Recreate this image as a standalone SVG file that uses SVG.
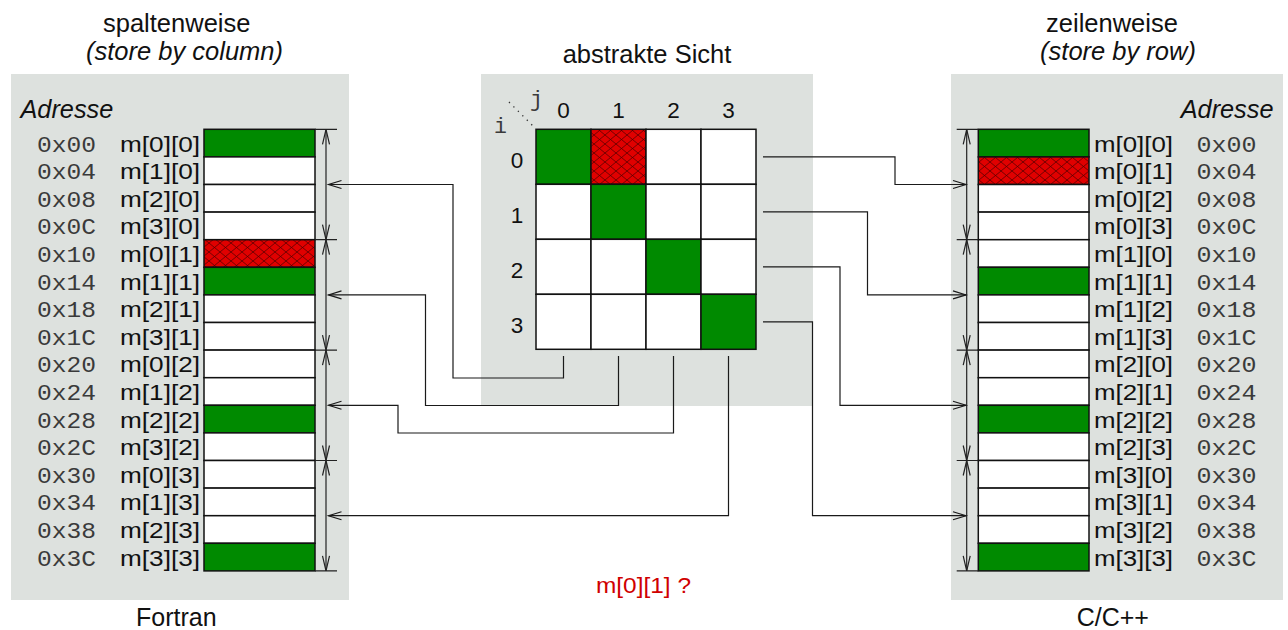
<svg xmlns="http://www.w3.org/2000/svg" width="1288" height="630" viewBox="0 0 1288 630">
<defs>
<style>
.panel{fill:#dde1de}
.t{font-family:"Liberation Sans",Arial,sans-serif;fill:#111}
.ti{font-family:"Liberation Sans",Arial,sans-serif;font-style:italic;fill:#111}
.lab{font-family:"Liberation Sans",Arial,sans-serif;font-size:21.5px;fill:#111}
.idx{font-family:"Liberation Sans",Arial,sans-serif;font-size:22.5px;fill:#111}
.adr{font-family:"Liberation Mono","Courier New",monospace;font-size:21.5px;fill:#3a3a3a}
.cell{fill:#fff;stroke:#111;stroke-width:1.5}
.g{fill:#008a00;stroke:#111;stroke-width:1.5}
.h{fill:url(#hatch);stroke:#111;stroke-width:1.5}
.br{stroke:#222;stroke-width:1.2;fill:none}
.con{stroke:#1a1a1a;stroke-width:1.2;fill:none}
</style>
<pattern id="hatch" width="11" height="9" patternUnits="userSpaceOnUse">
<rect width="11" height="9" fill="#e00000"/>
<path d="M0,0 L11,9 M11,0 L0,9" stroke="#5a0000" stroke-width="0.8"/>
</pattern>
<marker id="arr" markerUnits="userSpaceOnUse" markerWidth="16" markerHeight="12" viewBox="-14 -6 16 12" refX="0" refY="0" orient="auto" overflow="visible">
<path d="M-13,-4 L0,0 L-13,4" fill="none" stroke="#1a1a1a" stroke-width="1.2"/>
</marker>
<marker id="brk" markerUnits="userSpaceOnUse" markerWidth="18" markerHeight="12" viewBox="-16 -6 18 12" refX="0" refY="0" orient="auto-start-reverse" overflow="visible">
<path d="M-15,-3.5 L0,0 L-15,3.5" fill="none" stroke="#222" stroke-width="1.2"/>
</marker>
</defs>

<rect width="1288" height="630" fill="#fff"/>

<g id="titles">
<text class="t" x="176.7" y="31.7" font-size="25.5" text-anchor="middle">spaltenweise</text>
<text class="ti" x="184.5" y="60" font-size="25.5" text-anchor="middle">(store by column)</text>
<text class="t" x="647" y="63.3" font-size="25.5" text-anchor="middle">abstrakte Sicht</text>
<text class="t" x="1112" y="31.7" font-size="25.5" text-anchor="middle">zeilenweise</text>
<text class="ti" x="1118" y="60" font-size="25.5" text-anchor="middle">(store by row)</text>
<text class="t" x="176.3" y="625.7" font-size="25" text-anchor="middle">Fortran</text>
<text class="t" x="1112.8" y="625.7" font-size="25" text-anchor="middle">C/C++</text>
<text x="596" y="593" font-family="'Liberation Sans',Arial,sans-serif" font-size="21.5" fill="#d00000" textLength="95" lengthAdjust="spacingAndGlyphs">m[0][1] ?</text>
</g>

<g id="panel-left">
<rect class="panel" x="11" y="74" width="338" height="526"/>
<text class="ti" x="20.5" y="118.3" font-size="25.3">Adresse</text>
<g id="left-cells">
<rect class="g" x="204" y="129.3" width="111" height="27.6"/>
<rect class="cell" x="204" y="156.9" width="111" height="27.6"/>
<rect class="cell" x="204" y="184.5" width="111" height="27.6"/>
<rect class="cell" x="204" y="212.1" width="111" height="27.6"/>
<rect class="h" x="204" y="239.7" width="111" height="27.6"/>
<rect class="g" x="204" y="267.3" width="111" height="27.6"/>
<rect class="cell" x="204" y="294.9" width="111" height="27.6"/>
<rect class="cell" x="204" y="322.5" width="111" height="27.6"/>
<rect class="cell" x="204" y="350.1" width="111" height="27.6"/>
<rect class="cell" x="204" y="377.7" width="111" height="27.6"/>
<rect class="g" x="204" y="405.3" width="111" height="27.6"/>
<rect class="cell" x="204" y="432.9" width="111" height="27.6"/>
<rect class="cell" x="204" y="460.5" width="111" height="27.6"/>
<rect class="cell" x="204" y="488.1" width="111" height="27.6"/>
<rect class="cell" x="204" y="515.7" width="111" height="27.6"/>
<rect class="g" x="204" y="543.3" width="111" height="27.6"/>
</g>
<g id="left-addr">
<text class="adr" x="37" y="151.5" textLength="59" lengthAdjust="spacingAndGlyphs">0x00</text>
<text class="adr" x="37" y="179.1" textLength="59" lengthAdjust="spacingAndGlyphs">0x04</text>
<text class="adr" x="37" y="206.7" textLength="59" lengthAdjust="spacingAndGlyphs">0x08</text>
<text class="adr" x="37" y="234.3" textLength="59" lengthAdjust="spacingAndGlyphs">0x0C</text>
<text class="adr" x="37" y="261.9" textLength="59" lengthAdjust="spacingAndGlyphs">0x10</text>
<text class="adr" x="37" y="289.5" textLength="59" lengthAdjust="spacingAndGlyphs">0x14</text>
<text class="adr" x="37" y="317.1" textLength="59" lengthAdjust="spacingAndGlyphs">0x18</text>
<text class="adr" x="37" y="344.7" textLength="59" lengthAdjust="spacingAndGlyphs">0x1C</text>
<text class="adr" x="37" y="372.3" textLength="59" lengthAdjust="spacingAndGlyphs">0x20</text>
<text class="adr" x="37" y="399.9" textLength="59" lengthAdjust="spacingAndGlyphs">0x24</text>
<text class="adr" x="37" y="427.5" textLength="59" lengthAdjust="spacingAndGlyphs">0x28</text>
<text class="adr" x="37" y="455.1" textLength="59" lengthAdjust="spacingAndGlyphs">0x2C</text>
<text class="adr" x="37" y="482.7" textLength="59" lengthAdjust="spacingAndGlyphs">0x30</text>
<text class="adr" x="37" y="510.3" textLength="59" lengthAdjust="spacingAndGlyphs">0x34</text>
<text class="adr" x="37" y="537.9" textLength="59" lengthAdjust="spacingAndGlyphs">0x38</text>
<text class="adr" x="37" y="565.5" textLength="59" lengthAdjust="spacingAndGlyphs">0x3C</text>
</g>
<g id="left-labels">
<text class="lab" x="120" y="151.5" textLength="80" lengthAdjust="spacingAndGlyphs">m[0][0]</text>
<text class="lab" x="120" y="179.1" textLength="80" lengthAdjust="spacingAndGlyphs">m[1][0]</text>
<text class="lab" x="120" y="206.7" textLength="80" lengthAdjust="spacingAndGlyphs">m[2][0]</text>
<text class="lab" x="120" y="234.3" textLength="80" lengthAdjust="spacingAndGlyphs">m[3][0]</text>
<text class="lab" x="120" y="261.9" textLength="80" lengthAdjust="spacingAndGlyphs">m[0][1]</text>
<text class="lab" x="120" y="289.5" textLength="80" lengthAdjust="spacingAndGlyphs">m[1][1]</text>
<text class="lab" x="120" y="317.1" textLength="80" lengthAdjust="spacingAndGlyphs">m[2][1]</text>
<text class="lab" x="120" y="344.7" textLength="80" lengthAdjust="spacingAndGlyphs">m[3][1]</text>
<text class="lab" x="120" y="372.3" textLength="80" lengthAdjust="spacingAndGlyphs">m[0][2]</text>
<text class="lab" x="120" y="399.9" textLength="80" lengthAdjust="spacingAndGlyphs">m[1][2]</text>
<text class="lab" x="120" y="427.5" textLength="80" lengthAdjust="spacingAndGlyphs">m[2][2]</text>
<text class="lab" x="120" y="455.1" textLength="80" lengthAdjust="spacingAndGlyphs">m[3][2]</text>
<text class="lab" x="120" y="482.7" textLength="80" lengthAdjust="spacingAndGlyphs">m[0][3]</text>
<text class="lab" x="120" y="510.3" textLength="80" lengthAdjust="spacingAndGlyphs">m[1][3]</text>
<text class="lab" x="120" y="537.9" textLength="80" lengthAdjust="spacingAndGlyphs">m[2][3]</text>
<text class="lab" x="120" y="565.5" textLength="80" lengthAdjust="spacingAndGlyphs">m[3][3]</text>
</g>
<g id="left-brackets">
<path class="br" d="M315,129.3H337M315,239.7H337M315,350.1H337M315,460.5H337M315,570.9H337"/>
<path class="br" d="M326,129.3V239.7" marker-start="url(#brk)" marker-end="url(#brk)"/>
<path class="br" d="M326,239.7V350.1" marker-start="url(#brk)" marker-end="url(#brk)"/>
<path class="br" d="M326,350.1V460.5" marker-start="url(#brk)" marker-end="url(#brk)"/>
<path class="br" d="M326,460.5V570.9" marker-start="url(#brk)" marker-end="url(#brk)"/>
</g>
</g>

<g id="panel-center">
<rect class="panel" x="481" y="74" width="332" height="332"/>
<g id="matrix">
<rect class="g" x="536" y="129.3" width="55" height="55"/>
<rect class="h" x="591" y="129.3" width="55" height="55"/>
<rect class="cell" x="646" y="129.3" width="55" height="55"/>
<rect class="cell" x="701" y="129.3" width="55" height="55"/>
<rect class="cell" x="536" y="184.3" width="55" height="55"/>
<rect class="g" x="591" y="184.3" width="55" height="55"/>
<rect class="cell" x="646" y="184.3" width="55" height="55"/>
<rect class="cell" x="701" y="184.3" width="55" height="55"/>
<rect class="cell" x="536" y="239.3" width="55" height="55"/>
<rect class="cell" x="591" y="239.3" width="55" height="55"/>
<rect class="g" x="646" y="239.3" width="55" height="55"/>
<rect class="cell" x="701" y="239.3" width="55" height="55"/>
<rect class="cell" x="536" y="294.3" width="55" height="55"/>
<rect class="cell" x="591" y="294.3" width="55" height="55"/>
<rect class="cell" x="646" y="294.3" width="55" height="55"/>
<rect class="g" x="701" y="294.3" width="55" height="55"/>
</g>
<g id="matrix-index">
<text class="idx" x="563.5" y="118.3" text-anchor="middle">0</text>
<text class="idx" x="618.5" y="118.3" text-anchor="middle">1</text>
<text class="idx" x="673.5" y="118.3" text-anchor="middle">2</text>
<text class="idx" x="728.5" y="118.3" text-anchor="middle">3</text>
<text class="idx" x="517" y="168.3" text-anchor="middle">0</text>
<text class="idx" x="517" y="223.3" text-anchor="middle">1</text>
<text class="idx" x="517" y="278.3" text-anchor="middle">2</text>
<text class="idx" x="517" y="333.3" text-anchor="middle">3</text>
<text class="adr" x="530" y="106" font-size="22">j</text>
<text class="adr" x="494" y="133" font-size="22">i</text>
<path d="M509,102 L533,126" stroke="#333" stroke-width="1.3" stroke-dasharray="1.3,5" fill="none"/>
</g>
</g>

<g id="panel-right">
<rect class="panel" x="951" y="74" width="332" height="526"/>
<text class="ti" x="1273.5" y="118.3" font-size="25.3" text-anchor="end">Adresse</text>
<g id="right-cells">
<rect class="g" x="978.3" y="129.3" width="110.7" height="27.6"/>
<rect class="h" x="978.3" y="156.9" width="110.7" height="27.6"/>
<rect class="cell" x="978.3" y="184.5" width="110.7" height="27.6"/>
<rect class="cell" x="978.3" y="212.1" width="110.7" height="27.6"/>
<rect class="cell" x="978.3" y="239.7" width="110.7" height="27.6"/>
<rect class="g" x="978.3" y="267.3" width="110.7" height="27.6"/>
<rect class="cell" x="978.3" y="294.9" width="110.7" height="27.6"/>
<rect class="cell" x="978.3" y="322.5" width="110.7" height="27.6"/>
<rect class="cell" x="978.3" y="350.1" width="110.7" height="27.6"/>
<rect class="cell" x="978.3" y="377.7" width="110.7" height="27.6"/>
<rect class="g" x="978.3" y="405.3" width="110.7" height="27.6"/>
<rect class="cell" x="978.3" y="432.9" width="110.7" height="27.6"/>
<rect class="cell" x="978.3" y="460.5" width="110.7" height="27.6"/>
<rect class="cell" x="978.3" y="488.1" width="110.7" height="27.6"/>
<rect class="cell" x="978.3" y="515.7" width="110.7" height="27.6"/>
<rect class="g" x="978.3" y="543.3" width="110.7" height="27.6"/>
</g>
<g id="right-labels">
<text class="lab" x="1094" y="151.5" textLength="79" lengthAdjust="spacingAndGlyphs">m[0][0]</text>
<text class="lab" x="1094" y="179.1" textLength="79" lengthAdjust="spacingAndGlyphs">m[0][1]</text>
<text class="lab" x="1094" y="206.7" textLength="79" lengthAdjust="spacingAndGlyphs">m[0][2]</text>
<text class="lab" x="1094" y="234.3" textLength="79" lengthAdjust="spacingAndGlyphs">m[0][3]</text>
<text class="lab" x="1094" y="261.9" textLength="79" lengthAdjust="spacingAndGlyphs">m[1][0]</text>
<text class="lab" x="1094" y="289.5" textLength="79" lengthAdjust="spacingAndGlyphs">m[1][1]</text>
<text class="lab" x="1094" y="317.1" textLength="79" lengthAdjust="spacingAndGlyphs">m[1][2]</text>
<text class="lab" x="1094" y="344.7" textLength="79" lengthAdjust="spacingAndGlyphs">m[1][3]</text>
<text class="lab" x="1094" y="372.3" textLength="79" lengthAdjust="spacingAndGlyphs">m[2][0]</text>
<text class="lab" x="1094" y="399.9" textLength="79" lengthAdjust="spacingAndGlyphs">m[2][1]</text>
<text class="lab" x="1094" y="427.5" textLength="79" lengthAdjust="spacingAndGlyphs">m[2][2]</text>
<text class="lab" x="1094" y="455.1" textLength="79" lengthAdjust="spacingAndGlyphs">m[2][3]</text>
<text class="lab" x="1094" y="482.7" textLength="79" lengthAdjust="spacingAndGlyphs">m[3][0]</text>
<text class="lab" x="1094" y="510.3" textLength="79" lengthAdjust="spacingAndGlyphs">m[3][1]</text>
<text class="lab" x="1094" y="537.9" textLength="79" lengthAdjust="spacingAndGlyphs">m[3][2]</text>
<text class="lab" x="1094" y="565.5" textLength="79" lengthAdjust="spacingAndGlyphs">m[3][3]</text>
</g>
<g id="right-addr">
<text class="adr" x="1196.5" y="151.5" textLength="60" lengthAdjust="spacingAndGlyphs">0x00</text>
<text class="adr" x="1196.5" y="179.1" textLength="60" lengthAdjust="spacingAndGlyphs">0x04</text>
<text class="adr" x="1196.5" y="206.7" textLength="60" lengthAdjust="spacingAndGlyphs">0x08</text>
<text class="adr" x="1196.5" y="234.3" textLength="60" lengthAdjust="spacingAndGlyphs">0x0C</text>
<text class="adr" x="1196.5" y="261.9" textLength="60" lengthAdjust="spacingAndGlyphs">0x10</text>
<text class="adr" x="1196.5" y="289.5" textLength="60" lengthAdjust="spacingAndGlyphs">0x14</text>
<text class="adr" x="1196.5" y="317.1" textLength="60" lengthAdjust="spacingAndGlyphs">0x18</text>
<text class="adr" x="1196.5" y="344.7" textLength="60" lengthAdjust="spacingAndGlyphs">0x1C</text>
<text class="adr" x="1196.5" y="372.3" textLength="60" lengthAdjust="spacingAndGlyphs">0x20</text>
<text class="adr" x="1196.5" y="399.9" textLength="60" lengthAdjust="spacingAndGlyphs">0x24</text>
<text class="adr" x="1196.5" y="427.5" textLength="60" lengthAdjust="spacingAndGlyphs">0x28</text>
<text class="adr" x="1196.5" y="455.1" textLength="60" lengthAdjust="spacingAndGlyphs">0x2C</text>
<text class="adr" x="1196.5" y="482.7" textLength="60" lengthAdjust="spacingAndGlyphs">0x30</text>
<text class="adr" x="1196.5" y="510.3" textLength="60" lengthAdjust="spacingAndGlyphs">0x34</text>
<text class="adr" x="1196.5" y="537.9" textLength="60" lengthAdjust="spacingAndGlyphs">0x38</text>
<text class="adr" x="1196.5" y="565.5" textLength="60" lengthAdjust="spacingAndGlyphs">0x3C</text>
</g>
<g id="right-brackets">
<path class="br" d="M956.7,129.3H978.3M956.7,239.7H978.3M956.7,350.1H978.3M956.7,460.5H978.3M956.7,570.9H978.3"/>
<path class="br" d="M966.7,129.3V239.7" marker-start="url(#brk)" marker-end="url(#brk)"/>
<path class="br" d="M966.7,239.7V350.1" marker-start="url(#brk)" marker-end="url(#brk)"/>
<path class="br" d="M966.7,350.1V460.5" marker-start="url(#brk)" marker-end="url(#brk)"/>
<path class="br" d="M966.7,460.5V570.9" marker-start="url(#brk)" marker-end="url(#brk)"/>
</g>
</g>

<g id="connectors">
<path class="con" d="M563.5,356V378H453V184.5H328.5" marker-end="url(#arr)"/>
<path class="con" d="M618.5,356V405.5H425.5V294.9H328.5" marker-end="url(#arr)"/>
<path class="con" d="M673.5,356V433H398V405.3H328.5" marker-end="url(#arr)"/>
<path class="con" d="M728.5,356V515.7H328.5" marker-end="url(#arr)"/>
<path class="con" d="M763,156.8H895V184.5H966" marker-end="url(#arr)"/>
<path class="con" d="M763,211.8H867.5V294.9H966" marker-end="url(#arr)"/>
<path class="con" d="M763,266.8H840V405.3H966" marker-end="url(#arr)"/>
<path class="con" d="M763,321.8H812.5V515.7H966" marker-end="url(#arr)"/>
</g>
</svg>
